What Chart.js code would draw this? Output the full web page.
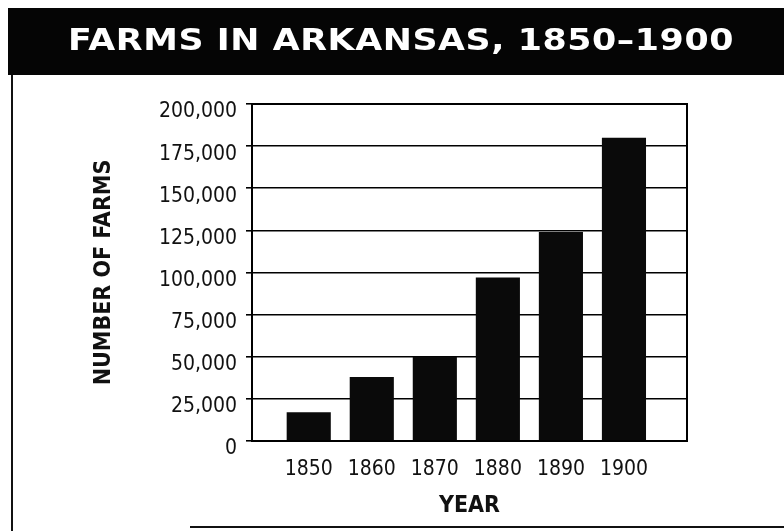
<!DOCTYPE html>
<html>
<head>
<meta charset="utf-8">
<script src="https://cdn.jsdelivr.net/npm/chart.js@4/dist/chart.umd.min.js"></script>
<style>
  html, body { margin: 0; padding: 0; background: #fff; }
  canvas { display: block; }
</style>
</head>
<body>
<canvas id="c" width="784" height="531"></canvas>
<script>
// ---- data ----
const chartTitle = 'FARMS IN ARKANSAS, 1850\u20131900';
const years = [1850, 1860, 1870, 1880, 1890, 1900];
const xTickLabels = ['1850', '1860', '1870', '1880', '1890', '1900'];
const farms = [17000, 38000, 50000, 97000, 124000, 180000];
const yTickValues = [0, 25000, 50000, 75000, 100000, 125000, 150000, 175000, 200000];
const yTickLabels = ['0', '25,000', '50,000', '75,000', '100,000', '125,000', '150,000', '175,000', '200,000'];
const xAxisTitle = 'YEAR';
const yAxisTitle = 'NUMBER OF FARMS';

const tickFont = { family: '"DejaVu Sans Condensed", "Liberation Sans", Arial', size: 21, weight: 'normal', lineHeight: 1 };
const titleFont = { family: '"DejaVu Sans Condensed", "Liberation Sans", Arial', size: 23, weight: 'bold', lineHeight: 1 };

const decor = {
  id: 'decor',
  beforeDraw(chart) {
    const ctx = chart.ctx;
    ctx.save();
    ctx.fillStyle = '#fff';
    ctx.fillRect(0, 0, chart.width, chart.height);
    // title band
    ctx.fillStyle = '#050505';
    ctx.fillRect(8, 8, chart.width - 8, 67);
    ctx.fillStyle = '#fff';
    ctx.font = 'bold 30px "DejaVu Sans"';
    ctx.textBaseline = 'middle';
    ctx.textAlign = 'left';
    try { ctx.letterSpacing = '0.5px'; } catch (e) {}
    ctx.translate(68, 42);
    ctx.scale(1.16, 1);
    ctx.fillText(chartTitle, 0, 0);
    ctx.restore();
    // outer frame lines
    ctx.save();
    ctx.strokeStyle = '#111';
    ctx.lineWidth = 2;
    ctx.beginPath();
    ctx.moveTo(12, 75);
    ctx.lineTo(12, 531);
    ctx.stroke();
    ctx.beginPath();
    ctx.moveTo(190, 527);
    ctx.lineTo(chart.width, 527);
    ctx.stroke();
    ctx.restore();
  },
  afterDraw(chart) {
    const { ctx, chartArea: a } = chart;
    ctx.save();
    ctx.strokeStyle = '#000';
    ctx.lineWidth = 2;
    ctx.strokeRect(a.left, a.top, a.right - a.left, a.bottom - a.top);
    ctx.restore();
  }
};

new Chart(document.getElementById('c'), {
  type: 'bar',
  data: {
    datasets: [{
      data: years.map((y, i) => ({ x: y, y: farms[i] })),
      backgroundColor: '#0a0a0a',
      borderWidth: 0,
      barPercentage: 0.7,
      categoryPercentage: 1
    }]
  },
  options: {
    responsive: false,
    animation: false,
    devicePixelRatio: 1,
    layout: { padding: { left: 0, right: 97, top: 104, bottom: 0 } },
    plugins: {
      legend: { display: false },
      tooltip: { enabled: false },
      title: { display: false }
    },
    scales: {
      x: {
        type: 'linear',
        offset: false,
        min: 1841,
        max: 1910,
        afterBuildTicks(s) { s.ticks = years.map(v => ({ value: v })); },
        afterFit(s) { s.height = 90; },
        grid: { display: false },
        border: { display: true, color: '#000', width: 2 },
        ticks: {
          autoSkip: false,
          maxRotation: 0,
          color: '#111',
          font: tickFont,
          padding: 10,
          callback: (v, i) => xTickLabels[i]
        },
        title: {
          display: true,
          text: xAxisTitle,
          color: '#111',
          font: titleFont,
          padding: { top: 0, bottom: 13 }
        }
      },
      y: {
        min: 0,
        max: 200000,
        afterBuildTicks(s) { s.ticks = yTickValues.map(v => ({ value: v })); },
        afterFit(s) { s.width = 252; },
        grid: { color: '#000', lineWidth: 1.6, drawTicks: true, tickLength: 6 },
        border: { display: true, color: '#000', width: 2 },
        ticks: {
          color: '#111',
          font: tickFont,
          padding: 9,
          labelOffset: 8,
          callback: (v, i) => yTickLabels[i]
        },
        title: {
          display: true,
          text: yAxisTitle,
          color: '#111',
          font: titleFont,
          padding: { top: 93, bottom: 0 }
        }
      }
    }
  },
  plugins: [decor]
});
</script>
</body>
</html>
